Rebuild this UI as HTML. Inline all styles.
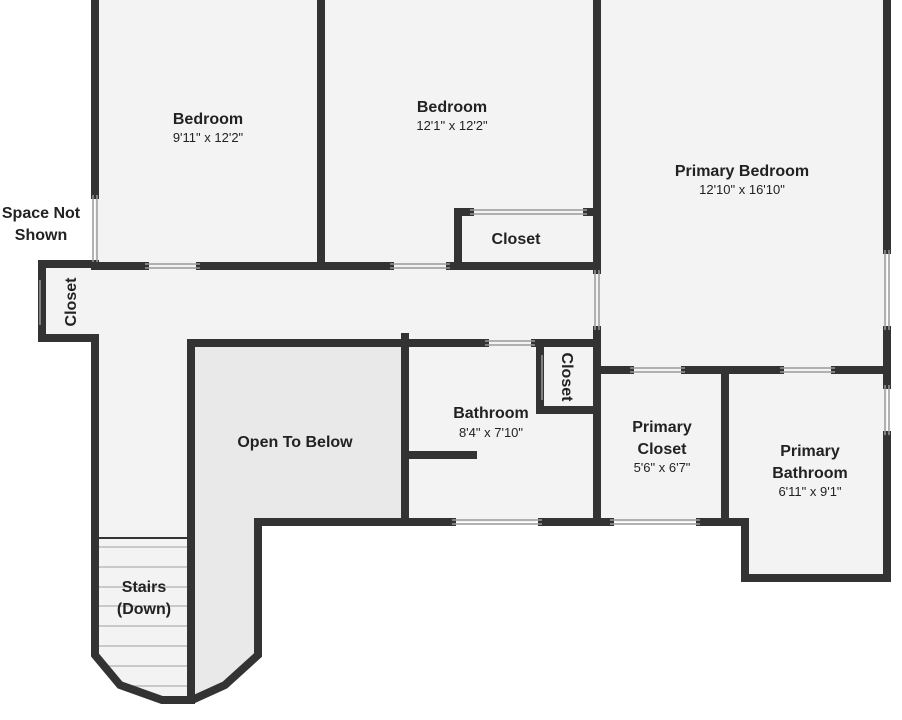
<!DOCTYPE html>
<html><head><meta charset="utf-8"><style>
html,body{margin:0;padding:0;background:#fff;}
svg{display:block;}
text{font-family:"Liberation Sans","DejaVu Sans",sans-serif;fill:#222;text-anchor:middle;}
.t{font-weight:bold;font-size:16px;}
.d{font-size:13px;}
</style></head><body>
<svg width="902" height="720" viewBox="0 0 902 720">
<!-- floors -->
<g fill="#f3f3f3">
<rect x="95" y="0" width="792" height="343"/>
<rect x="42" y="264" width="56" height="74"/>
<rect x="597" y="343" width="290" height="179"/>
<rect x="405" y="343" width="192" height="179"/>
<rect x="745" y="518" width="142" height="60"/>
<path d="M95 343 H258 V655 L225 685 L192 700 L162 700 L120 685 L95 655 Z"/>
</g>
<path d="M191 343 H405 V522 H258 V655 L225 685 L191 700 Z" fill="#e9e9e9"/>
<!-- stairs lines -->
<g stroke="#bbb" stroke-width="1.5">
<line x1="98" y1="547" x2="188" y2="547"/><line x1="98" y1="567" x2="188" y2="567"/>
<line x1="98" y1="587" x2="188" y2="587"/><line x1="98" y1="606" x2="188" y2="606"/>
<line x1="98" y1="626" x2="188" y2="626"/><line x1="98" y1="646" x2="188" y2="646"/>
<line x1="105" y1="666" x2="188" y2="666"/><line x1="130" y1="686" x2="188" y2="686"/>
</g>
<line x1="98" y1="538" x2="188" y2="538" stroke="#333" stroke-width="2"/>
<!-- walls -->
<g stroke="#333" stroke-width="8" fill="none" stroke-linecap="square">
<line x1="95" y1="0" x2="95" y2="195"/>
<line x1="321" y1="0" x2="321" y2="266"/>
<line x1="597" y1="0" x2="597" y2="270"/>
<line x1="597" y1="330" x2="597" y2="522"/>
<line x1="887" y1="0" x2="887" y2="250"/>
<line x1="887" y1="330" x2="887" y2="385"/>
<line x1="887" y1="435" x2="887" y2="578"/>
<path d="M95 266 H145 M200 266 H390 M450 266 H597"/>
<path d="M95 264 H42 V338 H95"/>
<path d="M458 266 V212 H470 M587 212 H597"/>
<path d="M95 338 V655 L120 685 L162 700 H192 L225 685 L258 655 V522 H452 M542 522 H610 M700 522 H745 V578 H887"/>
<line x1="191" y1="343" x2="191" y2="700"/>
<path d="M191 343 H405 V522"/>
<path d="M405 337 V343 H485 M535 343 H597"/>
<path d="M540 343 V410 H597"/>
<line x1="410" y1="455" x2="473" y2="455"/>
<path d="M597 370 H630 M685 370 H780 M835 370 H887"/>
<line x1="725" y1="370" x2="725" y2="522"/>
</g>
<!-- windows / thin lines -->
<g stroke="#999" stroke-width="1.5" fill="none">
<path d="M93 195 V262 M97 195 V262"/>
<path d="M470 210 H587 M470 214 H587"/>
<path d="M885 250 V330 M889 250 V330 M885 385 V435 M889 435 V385"/>
<path d="M452 520 H542 M452 524 H542 M610 520 H700 M610 524 H700"/>
<path d="M145 264 H200 M145 268 H200 M390 264 H450 M390 268 H450"/>
<path d="M485 341 H535 M485 345 H535 M630 368 H685 M630 372 H685 M780 368 H835 M780 372 H835"/>
<path d="M595 270 V330 M599 270 V330 M542 355 V400 M40 280 V325"/>
</g>
<!-- labels -->
<text class="t" x="208" y="124">Bedroom</text><text class="d" x="208" y="142">9'11" x 12'2"</text>
<text class="t" x="452" y="112">Bedroom</text><text class="d" x="452" y="130">12'1" x 12'2"</text>
<text class="t" x="742" y="176">Primary Bedroom</text><text class="d" x="742" y="194">12'10" x 16'10"</text>
<text class="t" x="516" y="244">Closet</text>
<text class="t" x="41" y="218">Space Not</text><text class="t" x="41" y="240">Shown</text>
<text class="t" transform="translate(76,302) rotate(-90)">Closet</text>
<text class="t" transform="translate(562,377) rotate(90)">Closet</text>
<text class="t" x="295" y="447">Open To Below</text>
<text class="t" x="491" y="418">Bathroom</text><text class="d" x="491" y="437">8'4" x 7'10"</text>
<text class="t" x="662" y="432">Primary</text><text class="t" x="662" y="454">Closet</text><text class="d" x="662" y="472">5'6" x 6'7"</text>
<text class="t" x="810" y="456">Primary</text><text class="t" x="810" y="478">Bathroom</text><text class="d" x="810" y="496">6'11" x 9'1"</text>
<text class="t" x="144" y="592">Stairs</text><text class="t" x="144" y="614">(Down)</text>
</svg>
</body></html>
